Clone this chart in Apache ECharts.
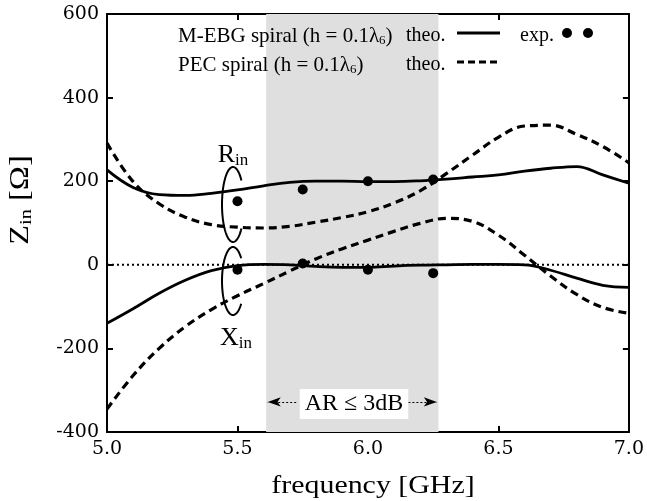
<!DOCTYPE html>
<html>
<head>
<meta charset="utf-8">
<script src="https://cdn.jsdelivr.net/npm/echarts@6/dist/echarts.min.js"></script>
<style>
  html, body { margin: 0; padding: 0; background: #fff; }
  #chart { width: 647px; height: 501px; }
</style>
</head>
<body>
<div id="chart"></div>
<script>
// theoretical curves, sampled every 0.1 GHz
const freq = [5.0, 5.1, 5.2, 5.3, 5.4, 5.5, 5.6, 5.7, 5.8, 5.9, 6.0, 6.1, 6.2, 6.3, 6.4, 6.5, 6.6, 6.7, 6.8, 6.9, 7.0]
const rMebg = [227, 185, 168, 166, 171, 179, 189, 197, 200, 200, 199, 199, 201, 205, 210, 215, 224, 231, 235, 215, 195]
const xMebg = [-140, -105, -68, -37, -14, -2, 1, 0, -4, -6, -6, -3, -1, 0, 1, 1, 0, -13, -32, -49, -54]
const rPec = [291, 199, 146, 114, 96, 90, 88, 92, 102, 113, 127, 148, 177, 218, 262, 305, 332, 334, 312, 283, 244]
const xPec = [-345, -265, -200, -148, -107, -74, -45, -15, 14, 38, 59, 80, 99, 111, 104, 71, 23, -27, -71, -102, -116]

// measured points
const expFreq = [5.5, 5.75, 6.0, 6.25]
const rExp = [152, 180, 200, 204]
const xExp = [-12, 3, -12, -20]

// AR <= 3dB band
const arBand = [5.61, 6.27]

const xTicks = [5.0, 5.5, 6.0, 6.5, 7.0]
const yTicks = [-400, -200, 0, 200, 400, 600]

const serif = 'Liberation Serif'
const tickFont = 'DejaVu Serif'

function pairs(xs, ys) {
  return xs.map(function(x, i) { return [x, ys[i]] })
}

function ellipse(cx, cy, rx, ry, openDeg) {
  // open on the right side
  const pts = []
  const a0 = openDeg * Math.PI / 180
  const a1 = 2 * Math.PI - a0
  for (let i = 0; i <= 80; i++) {
    const a = a0 + (a1 - a0) * i / 80
    pts.push([cx + rx * Math.cos(a), cy - ry * Math.sin(a)])
  }
  return pts
}

const chart = echarts.init(document.getElementById('chart'))

const axisLine = { onZero: false, lineStyle: { color: '#000', width: 2 } }
const axisTick = { inside: true, length: 6, lineStyle: { color: '#000', width: 2 } }

const xBase = {
  type: 'value',
  min: xTicks[0],
  max: xTicks[xTicks.length - 1],
  interval: xTicks[1] - xTicks[0],
  axisLine: axisLine,
  axisTick: axisTick,
  splitLine: { show: false }
}
const yBase = {
  type: 'value',
  min: yTicks[0],
  max: yTicks[yTicks.length - 1],
  interval: yTicks[1] - yTicks[0],
  axisLine: axisLine,
  axisTick: axisTick,
  splitLine: { show: false }
}

const sub = { fontFamily: serif, fontSize: 13, lineHeight: 10, verticalAlign: 'bottom', fill: '#000' }
const subBig = { fontFamily: serif, fontSize: 17, lineHeight: 14, verticalAlign: 'bottom', fill: '#000' }

chart.setOption({
  animation: false,
  grid: { left: 107, right: 16, top: 14, bottom: 69 },
  xAxis: [
    Object.assign({}, xBase, {
      position: 'bottom',
      axisLabel: {
        color: '#000', fontFamily: tickFont, fontSize: 19, margin: 8,
        formatter: function(v) { return v.toFixed(1) }
      }
    }),
    Object.assign({}, xBase, { position: 'top', axisLabel: { show: false } })
  ],
  yAxis: [
    Object.assign({}, yBase, {
      position: 'left',
      axisLabel: { color: '#000', fontFamily: tickFont, fontSize: 19, margin: 8 }
    }),
    Object.assign({}, yBase, { position: 'right', axisLabel: { show: false } })
  ],
  series: [
    {
      name: 'band',
      type: 'line',
      data: [],
      silent: true,
      markArea: {
        silent: true,
        itemStyle: { color: '#dfdfdf' },
        data: [[{ xAxis: arBand[0] }, { xAxis: arBand[1] }]]
      },
      markLine: {
        silent: true,
        symbol: ['none', 'arrow'],
        symbolSize: [7, 13],
        label: { show: false },
        lineStyle: { color: '#000', type: [2, 2], width: 1 },
        data: [
          [{ coord: [5.725, -328] }, { coord: [arBand[0] + 0.006, -328] }],
          [{ coord: [6.155, -328] }, { coord: [arBand[1] - 0.006, -328] }]
        ]
      }
    },
    {
      name: 'zero',
      type: 'line',
      data: [[xTicks[0], 0], [xTicks[xTicks.length - 1], 0]],
      symbol: 'none',
      silent: true,
      lineStyle: { color: '#000', width: 2, type: [2, 3] }
    },
    {
      name: 'M-EBG R theo.',
      type: 'line',
      smooth: 0.4,
      symbol: 'none',
      data: pairs(freq, rMebg),
      lineStyle: { color: '#000', width: 2.8 }
    },
    {
      name: 'M-EBG X theo.',
      type: 'line',
      smooth: 0.4,
      symbol: 'none',
      data: pairs(freq, xMebg),
      lineStyle: { color: '#000', width: 2.8 }
    },
    {
      name: 'PEC R theo.',
      type: 'line',
      smooth: 0.4,
      symbol: 'none',
      data: pairs(freq, rPec),
      lineStyle: { color: '#000', width: 3.2, type: [8, 5] }
    },
    {
      name: 'PEC X theo.',
      type: 'line',
      smooth: 0.4,
      symbol: 'none',
      data: pairs(freq, xPec),
      lineStyle: { color: '#000', width: 3.2, type: [8, 5] }
    },
    {
      name: 'M-EBG R exp.',
      type: 'scatter',
      symbolSize: 10,
      data: pairs(expFreq, rExp),
      itemStyle: { color: '#000', opacity: 1 }
    },
    {
      name: 'M-EBG X exp.',
      type: 'scatter',
      symbolSize: 10,
      data: pairs(expFreq, xExp),
      itemStyle: { color: '#000', opacity: 1 }
    }
  ],
  graphic: [
    // legend
    {
      type: 'text', x: 178, y: 36, z: 10,
      style: {
        text: '{a|M-EBG spiral (h = 0.1λ}{s|6}{a|)}', verticalAlign: 'middle',
        rich: { a: { fontFamily: serif, fontSize: 21, lineHeight: 22, fill: '#000' }, s: sub }
      }
    },
    {
      type: 'text', x: 178, y: 65, z: 10,
      style: {
        text: '{a|PEC spiral (h = 0.1λ}{s|6}{a|)}', verticalAlign: 'middle',
        rich: { a: { fontFamily: serif, fontSize: 21, lineHeight: 22, fill: '#000' }, s: sub }
      }
    },
    { type: 'text', x: 406, y: 36, z: 10, style: { text: 'theo.', font: '20px "Liberation Serif"', fill: '#000', verticalAlign: 'middle' } },
    { type: 'text', x: 406, y: 65, z: 10, style: { text: 'theo.', font: '20px "Liberation Serif"', fill: '#000', verticalAlign: 'middle' } },
    { type: 'text', x: 520, y: 36, z: 10, style: { text: 'exp.', font: '20px "Liberation Serif"', fill: '#000', verticalAlign: 'middle' } },
    { type: 'line', z: 10, shape: { x1: 457, y1: 33, x2: 500, y2: 33 }, style: { stroke: '#000', lineWidth: 2.8 } },
    { type: 'line', z: 10, shape: { x1: 457, y1: 62, x2: 498, y2: 62 }, style: { stroke: '#000', lineWidth: 3.2, lineDash: [7, 4] } },
    { type: 'circle', z: 10, shape: { cx: 567, cy: 33, r: 5 }, style: { fill: '#000' } },
    { type: 'circle', z: 10, shape: { cx: 588, cy: 33, r: 5 }, style: { fill: '#000' } },

    // R_in / X_in ellipses and labels
    { type: 'polyline', z: 10, shape: { points: ellipse(233, 204.5, 11, 37.5, 40) }, style: { stroke: '#000', lineWidth: 2, fill: null } },
    { type: 'polyline', z: 10, shape: { points: ellipse(233, 281, 11, 34, 42) }, style: { stroke: '#000', lineWidth: 2, fill: null } },
    {
      type: 'text', x: 233, y: 155, z: 10,
      style: {
        text: '{a|R}{s|in}', align: 'center', verticalAlign: 'middle',
        rich: { a: { fontFamily: serif, fontSize: 26, lineHeight: 28, fill: '#000' }, s: subBig }
      }
    },
    {
      type: 'text', x: 236, y: 338, z: 10,
      style: {
        text: '{a|X}{s|in}', align: 'center', verticalAlign: 'middle',
        rich: { a: { fontFamily: serif, fontSize: 26, lineHeight: 28, fill: '#000' }, s: subBig }
      }
    },

    // AR <= 3dB label
    {
      type: 'text', x: 354, y: 404, z: 10,
      style: {
        text: 'AR ≤ 3dB', font: '24px "Liberation Serif"', fill: '#000',
        align: 'center', verticalAlign: 'middle',
        backgroundColor: '#fff', padding: [4, 5, 2, 5]
      }
    },

    // axis titles
    {
      type: 'text', x: 373, y: 486, scaleX: 1.15,
      style: { text: 'frequency [GHz]', font: '26px "Liberation Serif"', fill: '#000', align: 'center', verticalAlign: 'middle' }
    },
    {
      type: 'text', x: 21, y: 200, rotation: Math.PI / 2, scaleX: 1.2,
      style: {
        text: '{a|Z}{s|in}{a| [Ω]}', align: 'center', verticalAlign: 'middle',
        rich: { a: { fontFamily: serif, fontSize: 27, lineHeight: 28, fill: '#000' }, s: subBig }
      }
    }
  ]
})
</script>
</body>
</html>
